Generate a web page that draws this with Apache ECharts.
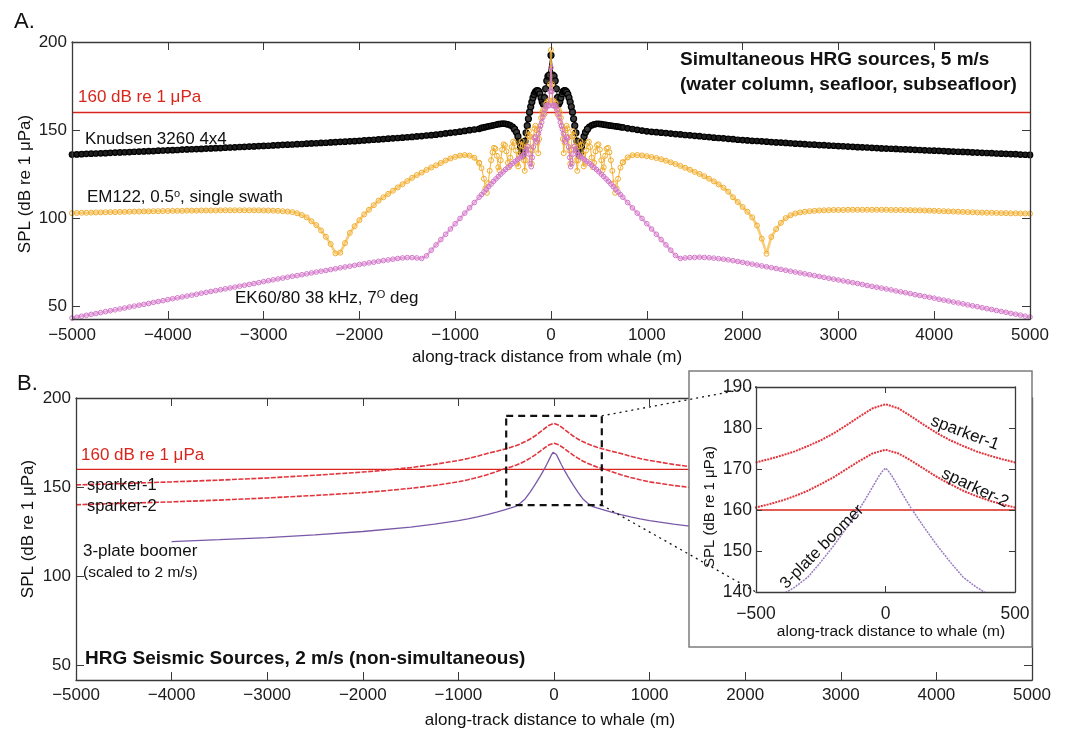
<!DOCTYPE html>
<html>
<head>
<meta charset="utf-8">
<script src="https://cdn.jsdelivr.net/npm/echarts@6/dist/echarts.min.js"></script>
<style>
  html, body { margin: 0; padding: 0; background: #fff; }
  #chart { width: 1068px; height: 731px; }
</style>
</head>
<body>
<div id="chart"></div>
<script>
// ---------- Panel A: simultaneous HRG sources, 5 m/s ----------
// along-track sample positions (m) of the far field on each side of the whale
const farLeft = [
  -5000,-4950,-4900,-4850,-4800,-4750,-4700,-4650,-4600,-4550,
  -4500,-4450,-4400,-4350,-4300,-4250,-4200,-4150,-4100,-4050,
  -4000,-3950,-3900,-3850,-3800,-3750,-3700,-3650,-3600,-3550,
  -3500,-3450,-3400,-3350,-3300,-3250,-3200,-3150,-3100,-3050,
  -3000,-2950,-2900,-2850,-2800,-2750,-2700,-2650,-2600,-2550,
  -2500,-2450,-2400,-2350,-2300,-2250,-2200,-2150,-2100,-2050,
  -2000,-1950,-1900,-1850,-1800,-1750,-1700,-1650,-1600,-1550,
  -1500,-1450,-1400,-1350,-1300,-1250,-1200,-1150,-1100,-1050,
  -1000,-950,-900,-850,-800,-750
];
const farRight = [
  750,800,850,900,950,
  1000,1050,1100,1150,1200,1250,1300,1350,1400,1450,
  1500,1550,1600,1650,1700,1750,1800,1850,1900,1950,
  2000,2050,2100,2150,2200,2250,2300,2350,2400,2450,
  2500,2550,2600,2650,2700,2750,2800,2850,2900,2950,
  3000,3050,3100,3150,3200,3250,3300,3350,3400,3450,
  3500,3550,3600,3650,3700,3750,3800,3850,3900,3950,
  4000,4050,4100,4150,4200,4250,4300,4350,4400,4450,
  4500,4550,4600,4650,4700,4750,4800,4850,4900,4950,
  5000
];

// Knudsen 3260 4x4 (SPL, dB re 1 uPa)
const knudsenLeft = [
  136.2,136.3,136.4,136.6,136.7,136.8,136.9,137.0,137.2,137.3,
  137.4,137.5,137.6,137.8,137.9,138.0,138.1,138.2,138.4,138.5,
  138.6,138.7,138.8,139.0,139.1,139.2,139.3,139.4,139.6,139.7,
  139.8,139.9,140.1,140.2,140.3,140.5,140.6,140.7,140.8,141.0,
  141.1,141.2,141.4,141.5,141.7,141.8,141.9,142.1,142.2,142.4,
  142.5,142.6,142.8,142.9,143.1,143.2,143.4,143.5,143.7,143.8,
  144.0,144.2,144.4,144.6,144.8,145.0,145.2,145.4,145.6,145.8,
  146.0,146.2,146.5,146.7,147.0,147.2,147.5,147.8,148.2,148.5,
  148.8,149.2,149.6,150.0,150.4,150.8
];
const knudsenCore = [
  [-725,151.3],[-700,151.6],[-675,151.9],[-650,152.2],[-625,152.5],[-600,152.8],[-575,153.1],
  [-550,153.4],[-525,153.6],[-500,153.7],[-475,153.6],[-450,153.3],[-425,152.8],[-400,151.9],
  [-380,150.6],[-360,148.8],[-345,146.5],[-330,143.6],[-318,140.4],[-306,137.4],[-295,135.6],
  [-284,139.2],[-272,143.8],[-260,148.5],[-248,152.6],[-236,156.5],[-224,160.2],[-212,163.3],
  [-200,166.0],[-188,168.4],[-176,170.3],[-164,171.6],[-152,172.3],[-140,172.5],[-128,172.0],
  [-116,170.6],[-104,168.4],[-92,166.2],[-80,164.8],[-68,168.5],[-56,173.5],[-44,178.0],
  [-32,180.6],[-20,181.2],[0,192.5],
  [20,181.2],[32,180.6],[44,178.0],[56,173.5],[68,168.5],[80,164.8],[92,166.2],[104,168.4],
  [116,170.6],[128,172.0],[140,172.5],[152,172.3],[164,171.6],[176,170.3],[188,168.4],[200,166.0],
  [212,163.3],[224,160.2],[236,156.5],[248,152.6],[260,148.5],[272,143.8],[284,139.2],[295,135.6],
  [306,137.4],[318,140.4],[330,143.6],[345,146.5],[360,148.8],[380,150.6],[400,151.9],[425,152.8],
  [450,153.3],[475,153.6],[500,153.6],[525,153.4],[550,153.2],[575,153.0],[600,152.8],[625,152.6],
  [650,152.4],[675,152.2],[700,152.0],[725,151.8]
];
const knudsenRight = [
  151.6,151.1,150.7,150.2,149.8,
  149.4,149.1,148.9,148.6,148.4,148.1,147.8,147.6,147.3,147.1,
  146.8,146.6,146.3,146.1,145.8,145.6,145.4,145.1,144.9,144.6,
  144.4,144.2,144.0,143.9,143.7,143.5,143.3,143.1,143.0,142.8,
  142.6,142.4,142.3,142.1,141.9,141.8,141.6,141.5,141.3,141.2,
  141.0,140.9,140.7,140.6,140.4,140.3,140.2,140.0,139.9,139.7,
  139.6,139.5,139.4,139.2,139.1,139.0,138.9,138.8,138.6,138.5,
  138.4,138.3,138.2,138.0,137.9,137.8,137.7,137.6,137.4,137.3,
  137.2,137.1,137.0,136.8,136.7,136.6,136.5,136.4,136.2,136.1,
  136.0
];

// EM122, 0.5 deg, single swath
const em122Left = [
  103.0,103.1,103.2,103.2,103.3,103.4,103.4,103.5,103.6,103.6,
  103.7,103.7,103.8,103.9,103.9,104.0,104.0,104.1,104.1,104.2,
  104.2,104.3,104.3,104.3,104.4,104.4,104.4,104.5,104.5,104.5,
  104.5,104.6,104.6,104.6,104.6,104.6,104.6,104.6,104.6,104.6,
  104.5,104.5,104.4,104.3,104.1,103.9,103.6,102.9,101.9,100.6,
  98.4,96.2,93.2,89.6,85.5,80.2,80.6,86.0,91.8,95.6,
  99.0,102.3,104.9,107.5,110.1,112.0,113.9,115.7,117.6,119.4,
  121.2,123.0,124.6,126.0,127.5,128.9,130.1,131.4,132.8,134.0,
  134.9,135.6,135.9,135.6,134.4,131.5
];
const em122Core = [
  [-725,128.5],[-700,122.5],[-685,117],[-670,114.5],[-655,120],[-640,127],[-625,133],[-610,137.5],
  [-595,140],[-580,139.5],[-565,135.5],[-550,129],[-538,127.3],[-525,133],[-510,139],[-495,142],
  [-480,141.5],[-465,138],[-450,131.5],[-438,129],[-425,134.5],[-410,140.5],[-395,143.5],[-380,142.8],
  [-366,138.5],[-353,131],[-342,129.5],[-330,136],[-318,141.5],[-306,143.8],[-294,141],[-283,133],
  [-274,127],[-264,133],[-253,141],[-242,147],[-231,149.5],[-220,146.5],[-210,139],[-201,131],
  [-192,138.5],[-182,146],[-172,151],[-162,152.5],[-152,150],[-142,143],[-133,137],[-124,145],
  [-114,152.5],[-103,157],[-92,160],[-81,161.5],[-70,159],[-60,162],[-50,165],[-40,166],
  [-30,164],[-20,167],[-10,176],[0,195.5],
  [10,176],[20,167],[30,164],[40,166],[50,165],[60,162],[70,159],[81,161.5],[92,160],[103,157],
  [114,152.5],[124,145],[133,137],[142,143],[152,150],[162,152.5],[172,151],[182,146],[192,138.5],
  [201,131],[210,139],[220,146.5],[231,149.5],[242,147],[253,141],[264,133],[274,127],[283,133],
  [294,141],[306,143.8],[318,141.5],[330,136],[342,129.5],[353,131],[366,138.5],[380,142.8],
  [395,143.5],[410,140.5],[425,134.5],[438,129],[450,131.5],[465,138],[480,141.5],[495,142],
  [510,139],[525,133],[538,127.3],[550,129],[565,135.5],[580,139.5],[595,140],[610,137.5],
  [625,133],[640,127],[655,120],[670,114.5],[685,117],[700,122.5],[725,128.8]
];
const em122Right = [
  131.8,134.6,135.8,135.9,135.7,
  135.3,134.8,134.2,133.5,132.7,131.8,130.8,129.8,128.7,127.6,
  126.4,125.2,123.9,122.5,121.0,119.3,117.4,115.2,112.0,109.3,
  106.5,103.8,100.6,96.0,88.5,80.0,89.5,94.0,97.5,100.2,
  101.8,102.8,103.4,103.8,104.1,104.3,104.5,104.6,104.7,104.8,
  104.8,104.8,104.9,104.9,104.9,104.9,104.9,104.9,104.9,104.9,
  104.9,104.8,104.8,104.8,104.7,104.7,104.6,104.6,104.5,104.4,
  104.3,104.2,104.1,104.0,103.9,103.8,103.7,103.6,103.5,103.4,
  103.3,103.2,103.2,103.1,103.0,103.0,102.9,102.9,102.8,102.8,
  102.7
];

// EK60/80 38 kHz, 7 deg
const ek60Left = [
  43.5,44.0,44.6,45.1,45.6,46.1,46.6,47.2,47.7,48.2,
  48.7,49.2,49.8,50.3,50.8,51.3,51.8,52.4,52.9,53.4,
  54.0,54.5,55.0,55.5,56.0,56.5,57.0,57.6,58.1,58.6,
  59.1,59.6,60.1,60.6,61.1,61.6,62.1,62.6,63.1,63.6,
  64.2,64.7,65.2,65.7,66.2,66.7,67.2,67.6,68.1,68.6,
  69.1,69.6,70.1,70.5,71.0,71.5,72.0,72.5,72.9,73.4,
  73.9,74.3,74.8,75.2,75.7,76.1,76.5,76.9,77.3,77.6,
  77.8,77.8,77.6,77.3,78.8,82.0,85.0,88.0,91.0,94.0,
  97.0,100.0,103.0,106.0,109.0,112.0
];
const ek60Core = [
  [-725,113.5],[-700,115],[-675,116.5],[-650,118],[-625,119.5],[-600,121],[-575,122.4],[-550,123.8],
  [-525,125.1],[-500,126.4],[-475,127.7],[-450,128.9],[-425,130.1],[-400,131.2],[-375,132.3],
  [-350,133.3],[-325,134.3],[-300,135.2],[-285,136.3],[-270,137.8],[-256,139.3],[-243,140.8],
  [-230,136.5],[-218,131],[-206,129.3],[-195,134.5],[-184,140.5],[-173,145.5],[-162,146.3],
  [-151,143.5],[-141,144.5],[-130,148],[-119,150.5],[-108,152.5],[-97,154.5],[-86,157.2],
  [-75,159.5],[-64,161.5],[-53,163.2],[-42,164.2],[-31,163.8],[-20,164],[-10,172],[0,185.5],
  [10,172],[20,164],[31,163.8],[42,164.2],[53,163.2],[64,161.5],[75,159.5],[86,157.2],[97,154.5],
  [108,152.5],[119,150.5],[130,148],[141,144.5],[151,143.5],[162,146.3],[173,145.5],[184,140.5],
  [195,134.5],[206,129.3],[218,131],[230,136.5],[243,140.8],[256,139.3],[270,137.8],[285,136.3],
  [300,135.2],[325,134.3],[350,133.3],[375,132.3],[400,131.2],[425,130.1],[450,128.9],[475,127.7],
  [500,126.4],[525,125.1],[550,123.8],[575,122.4],[600,121],[625,119.5],[650,118],[675,116.5],
  [700,115],[725,113.5]
];
const ek60Right = [
  112.0,109.0,106.0,103.0,100.0,
  97.0,94.0,91.0,88.0,85.0,82.0,79.0,77.3,77.6,77.8,
  77.9,78.0,77.9,77.7,77.5,77.2,76.9,76.5,76.1,75.6,
  75.1,74.6,74.1,73.6,73.1,72.6,72.1,71.6,71.1,70.6,
  70.1,69.6,69.1,68.6,68.1,67.6,67.1,66.6,66.1,65.6,
  65.1,64.6,64.1,63.6,63.1,62.6,62.0,61.5,61.0,60.5,
  60.0,59.5,58.9,58.4,57.9,57.4,56.8,56.3,55.8,55.3,
  54.8,54.2,53.7,53.2,52.6,52.1,51.6,51.0,50.5,50.0,
  49.4,48.9,48.4,47.8,47.3,46.8,46.2,45.7,45.2,44.6,
  44.1
];

// ---------- Panel B: HRG seismic sources, 2 m/s ----------
const sparker1 = [
  [-5000,151.3],[-4500,152.1],[-4000,153.0],[-3500,154.0],[-3000,155.2],[-2500,156.7],[-2000,158.5],
  [-1750,159.6],[-1500,161.0],[-1250,162.8],[-1000,165.0],[-900,166.1],[-800,167.4],[-700,168.9],
  [-600,170.2],[-500,171.6],[-450,172.4],[-400,173.3],[-350,174.3],[-300,175.6],[-250,177.0],
  [-200,178.7],[-150,180.7],[-100,182.8],[-50,184.8],[0,185.8],
  [50,184.8],[100,182.8],[150,180.7],[200,178.7],[250,177.0],[300,175.6],[350,174.3],[400,173.3],
  [450,172.4],[500,171.6],[600,170.2],[700,168.9],[800,167.4],[900,166.1],[1000,165.0],[1250,162.8],
  [1500,161.0],[1750,159.6],[2000,158.5],[2500,156.7],[3000,155.2],[3500,154.0],[4000,153.0],
  [4500,152.1],[5000,151.3]
];
const sparker2 = [
  [-5000,140.2],[-4500,141.0],[-4000,141.8],[-3500,142.8],[-3000,144.0],[-2500,145.4],[-2000,147.0],
  [-1750,148.1],[-1500,149.4],[-1250,151.0],[-1000,153.0],[-900,154.2],[-800,155.5],[-700,157.0],
  [-600,158.8],[-500,160.6],[-450,161.4],[-400,162.3],[-350,163.4],[-300,164.7],[-250,166.3],
  [-200,168.0],[-150,170.0],[-100,172.0],[-50,173.8],[0,174.7],
  [50,173.8],[100,172.0],[150,170.0],[200,168.0],[250,166.3],[300,164.7],[350,163.4],[400,162.3],
  [450,161.4],[500,160.6],[600,158.8],[700,157.0],[800,155.5],[900,154.2],[1000,153.0],[1250,151.0],
  [1500,149.4],[1750,148.1],[2000,147.0],[2500,145.4],[3000,144.0],[3500,142.8],[4000,141.8],
  [4500,141.0],[5000,140.2]
];
const boomer = [
  [-4000,119.5],[-3500,120.6],[-3000,121.8],[-2500,123.3],[-2000,125.2],[-1500,127.7],[-1250,129.3],
  [-1000,131.3],[-900,132.3],[-800,133.4],[-700,134.6],[-600,136.0],[-500,137.6],[-450,138.4],
  [-400,139.3],[-350,141.2],[-300,143.6],[-250,147.3],[-200,151.3],[-150,155.7],[-100,160.3],
  [-75,162.9],[-50,165.6],[-25,168.3],[-10,169.6],[0,170.2],
  [10,169.6],[25,168.3],[50,165.6],[75,162.9],[100,160.3],[150,155.7],[200,151.3],[250,147.3],
  [300,143.6],[350,141.2],[400,139.3],[450,138.4],[500,137.6],[600,136.0],[700,134.6],[800,133.4],
  [900,132.3],[1000,131.3],[1250,129.3],[1500,127.7],[2000,125.2],[2500,123.3],[3000,121.8],
  [3500,120.6],[4000,119.5]
];

const threshold = 160;
const xTicksMain = { min: -5000, max: 5000, step: 1000 };
const xTicksInset = { min: -500, max: 500, step: 500 };
const yRangeA = { min: 43, max: 200, step: 50 };
const yRangeB = { min: 42, max: 200, step: 50 };
const yRangeInset = { min: 140, max: 190, step: 10 };

// ---------- helpers ----------
const FF = '"Liberation Sans", Arial, Helvetica, sans-serif';
const AXIS_COLOR = '#3a3a3a';
const minus = v => (v < 0 ? '\u2212' + Math.abs(v) : String(v));
const join = (xs, ys) => xs.map((x, i) => [x, ys[i]]);

function xAxisPair(grid, r, opts) {
  const base = {
    gridIndex: grid, type: 'value', min: r.min, max: r.max, interval: r.step,
    splitLine: { show: false },
    axisLine: { show: true, onZero: false, lineStyle: { color: AXIS_COLOR, width: 1.3 } },
    axisTick: { show: true, inside: true, length: opts.tick, lineStyle: { color: AXIS_COLOR, width: 1 } },
    zlevel: opts.zlevel || 0, z: 5
  };
  return [
    Object.assign({}, base, {
      position: 'bottom',
      axisLabel: { show: true, formatter: minus, fontFamily: FF, fontSize: opts.font || 17, color: '#1c1c1c', margin: opts.margin }
    }),
    Object.assign({}, base, { position: 'top', axisLabel: { show: false } })
  ];
}
function yAxisPair(grid, r, opts) {
  const base = {
    gridIndex: grid, type: 'value', min: r.min, max: r.max,
    splitLine: { show: false },
    axisLine: { show: true, onZero: false, lineStyle: { color: AXIS_COLOR, width: 1.3 } },
    axisTick: { show: true, inside: true, length: opts.tick, lineStyle: { color: AXIS_COLOR, width: 1 } },
    zlevel: opts.zlevel || 0, z: 5
  };
  if (r.min % r.step === 0) {
    base.interval = r.step;
  } else {
    base.splitNumber = 3; base.minInterval = r.step; base.maxInterval = r.step;
  }
  return [
    Object.assign({}, base, {
      position: 'left',
      axisLabel: {
        show: true, fontFamily: FF, fontSize: opts.font || 17, color: '#1c1c1c', margin: opts.margin,
        formatter: v => (v % r.step === 0 ? String(v) : '')
      }
    }),
    Object.assign({}, base, { position: 'right', axisLabel: { show: false } })
  ];
}

const xA = xAxisPair(0, xTicksMain, { tick: 8, margin: 8 });
const yA = yAxisPair(0, yRangeA, { tick: 8, margin: 5 });
const xB = xAxisPair(1, xTicksMain, { tick: 8, margin: 7 });
const yB = yAxisPair(1, yRangeB, { tick: 8, margin: 5 });
const xI = xAxisPair(2, xTicksInset, { tick: 6, margin: 13, zlevel: 2, font: 17.5 });
const yI = yAxisPair(2, yRangeInset, { tick: 6, margin: 4, zlevel: 2, font: 17.5 });

// marker series: smoothly varying sections use a heavier connecting line so the
// closely spaced pings read as a continuous band
function markerSeries(name, data, o) {
  return {
    name, type: 'line', xAxisIndex: 0, yAxisIndex: 0, data,
    symbol: 'circle', symbolSize: o.size, showSymbol: true,
    lineStyle: { color: o.line, width: o.width },
    itemStyle: o.fill
      ? { color: o.fill, borderColor: o.stroke, borderWidth: 1.2 }
      : { color: 'rgba(255,255,255,0)', borderColor: o.stroke, borderWidth: 1 },
    z: o.z || 2,
    emphasis: { disabled: true }, silent: true, clip: true
  };
}
function plainLine(name, data, xi, color, width, type, zlevel, z) {
  return {
    name, type: 'line', xAxisIndex: xi, yAxisIndex: xi, data, showSymbol: false, symbol: 'none',
    lineStyle: { color, width, type: type || 'solid' }, zlevel: zlevel || 0, z: z || 2,
    emphasis: { disabled: true }, silent: true, clip: true
  };
}

// split a full profile into two smooth outer sections (|x| >= cut) and the
// oscillating centre; the centre keeps the bounding samples so the trace is continuous
function sections(left, core, right, cut) {
  const all = join(farLeft, left).concat(core, join(farRight, right));
  const l = all.filter(p => p[0] <= -cut);
  const r = all.filter(p => p[0] >= cut);
  const c = all.filter(p => p[0] > -cut && p[0] < cut);
  return { left: l, right: r, core: [l[l.length - 1]].concat(c, [r[0]]) };
}
const knudsen = sections(knudsenLeft, knudsenCore, knudsenRight, 380);
const em122 = sections(em122Left, em122Core, em122Right, 740);
const ek60 = sections(ek60Left, ek60Core, ek60Right, 290);

const STY = {
  kTail: { size: 5.5, line: '#0d0d0d', width: 4.2, fill: '#1e1e1e', stroke: '#000', z: 2 },
  kCore: { size: 6, line: '#000', width: 1, fill: '#3b3b3b', stroke: '#000', z: 2 },
  eTail: { size: 5, line: '#f8cc78', width: 2.6, stroke: '#f1ad2e', z: 3 },
  eCore: { size: 5, line: '#f2b134', width: 1, stroke: '#f1ad2e', z: 3 },
  pTail: { size: 4.6, line: '#e6a8df', width: 2.4, stroke: '#d076c6', z: 4 },
  pCore: { size: 4.6, line: '#d47ac9', width: 1, stroke: '#d076c6', z: 4 }
};

const RED = '#d9261c';
const SPARK = '#e3343c';
const BOOM = '#7a58a8';

const zoomBox = [
  [xTicksInset.min, yRangeInset.max], [xTicksInset.max, yRangeInset.max],
  [xTicksInset.max, yRangeInset.min], [xTicksInset.min, yRangeInset.min],
  [xTicksInset.min, yRangeInset.max]
];

const chart = echarts.init(document.getElementById('chart'), null, { renderer: 'canvas' });

chart.setOption({
  animation: false,
  backgroundColor: '#ffffff',
  grid: [
    { left: 72, top: 42, width: 958, height: 277, show: false },
    { left: 76, top: 398, width: 956, height: 282, show: false },
    { left: 756, top: 387, width: 259, height: 205, show: false, zlevel: 2 }
  ],
  xAxis: [xA[0], xA[1], xB[0], xB[1], xI[0], xI[1]],
  yAxis: [yA[0], yA[1], yB[0], yB[1], yI[0], yI[1]],
  series: [
    plainLine('160 dB', [[xTicksMain.min, threshold], [xTicksMain.max, threshold]], 0, RED, 1.5),
    markerSeries('Knudsen left', knudsen.left, STY.kTail),
    markerSeries('Knudsen right', knudsen.right, STY.kTail),
    markerSeries('Knudsen core', knudsen.core, STY.kCore),
    markerSeries('EM122 left', em122.left, STY.eTail),
    markerSeries('EM122 right', em122.right, STY.eTail),
    markerSeries('EM122 core', em122.core, STY.eCore),
    markerSeries('EK60 left', ek60.left, STY.pTail),
    markerSeries('EK60 right', ek60.right, STY.pTail),
    markerSeries('EK60 core', ek60.core, STY.pCore),

    plainLine('160 dB B', [[xTicksMain.min, threshold], [xTicksMain.max, threshold]], 2, RED, 1.3),
    plainLine('sparker-1', sparker1, 2, SPARK, 1.6, [5, 1.5]),
    plainLine('sparker-2', sparker2, 2, SPARK, 1.6, [5, 1.5]),
    plainLine('3-plate boomer', boomer, 2, BOOM, 1.3),
    plainLine('zoom box', zoomBox, 2, '#111', 2.2, [7, 5], 0, 4),

    plainLine('160 dB inset', [[xTicksInset.min, threshold], [xTicksInset.max, threshold]], 4, RED, 1.3, 'solid', 2, 3),
    plainLine('sparker-1 inset', sparker1, 4, SPARK, 2, [2, 1], 2, 4),
    plainLine('sparker-2 inset', sparker2, 4, SPARK, 2, [2, 1], 2, 4),
    plainLine('boomer inset', boomer, 4, '#9a7cc2', 1.5, [2, 1], 2, 4)
  ]
});

// text and connector overlays
function txt(x, y, text, o) {
  o = o || {};
  return {
    type: 'text', x, y, rotation: o.rot || 0, zlevel: o.zlevel || 0, z: 50, silent: true,
    style: {
      text, fill: o.color || '#111', fontFamily: FF, fontSize: o.size || 17,
      fontWeight: o.bold ? 'bold' : 'normal',
      align: o.align || 'left', verticalAlign: 'middle', rich: o.rich
    }
  };
}
const supRich = {
  n: { fontFamily: FF, fontSize: 17, fill: '#111' },
  s: { fontFamily: FF, fontSize: 11, fill: '#111', verticalAlign: 'top' }
};

const pTL = chart.convertToPixel({ gridIndex: 1 }, [xTicksInset.max, yRangeInset.max]);
const pBL = chart.convertToPixel({ gridIndex: 1 }, [xTicksInset.max, yRangeInset.min]);
const iTL = chart.convertToPixel({ gridIndex: 2 }, [xTicksInset.min, yRangeInset.max]);
const iBL = chart.convertToPixel({ gridIndex: 2 }, [xTicksInset.min, yRangeInset.min]);
const dotted = { stroke: '#111', lineWidth: 1.3, lineDash: [2, 4] };

chart.setOption({
  graphic: { elements: [
    // panel A
    txt(14, 22, 'A.', { size: 22 }),
    txt(25, 184, 'SPL (dB re 1 \u03bcPa)', { rot: Math.PI / 2, align: 'center' }),
    txt(547, 357, 'along-track distance from whale (m)', { align: 'center' }),
    txt(78, 97, '160 dB re 1 \u03bcPa', { color: RED }),
    txt(85, 139, 'Knudsen 3260 4x4'),
    txt(87, 197, '{n|EM122, 0.5}{s|o}{n|, single swath}', { rich: supRich }),
    txt(235, 298, '{n|EK60/80 38 kHz, 7}{s|O}{n| deg}', { rich: supRich }),
    txt(680, 60, 'Simultaneous HRG sources, 5 m/s', { size: 19, bold: true }),
    txt(680, 85, '(water column, seafloor, subseafloor)', { size: 19, bold: true }),

    // panel B
    txt(17, 384, 'B.', { size: 22 }),
    txt(28, 529, 'SPL (dB re 1 \u03bcPa)', { rot: Math.PI / 2, align: 'center' }),
    txt(550, 720, 'along-track distance to whale (m)', { align: 'center' }),
    txt(81, 455, '160 dB re 1 \u03bcPa', { color: RED }),
    txt(87, 485, 'sparker-1', { size: 16.5 }),
    txt(87, 506, 'sparker-2', { size: 16.5 }),
    txt(83, 551, '3-plate boomer'),
    txt(83, 573, '(scaled to 2 m/s)', { size: 15.5 }),
    txt(85, 659, 'HRG Seismic Sources, 2 m/s (non-simultaneous)', { size: 19, bold: true }),

    // inset frame
    { type: 'rect', zlevel: 1, z: 0, silent: true,
      shape: { x: 689, y: 371, width: 343, height: 276 },
      style: { fill: '#ffffff', stroke: '#7c7c7c', lineWidth: 1.5 } },
    txt(710, 507, 'SPL (dB re 1 \u03bcPa)', { rot: Math.PI / 2, align: 'center', size: 15, zlevel: 2 }),
    txt(891, 632, 'along-track distance to whale (m)', { align: 'center', size: 15.5, zlevel: 2 }),
    txt(965, 433, 'sparker-1', { align: 'center', rot: -0.36, zlevel: 2 }),
    txt(975, 488, 'sparker-2', { align: 'center', rot: -0.44, zlevel: 2 }),
    txt(822, 547, '3-plate boomer', { align: 'center', rot: 0.79, size: 16.5, zlevel: 2 }),

    // connectors from the zoom box to the inset
    { type: 'line', zlevel: 3, silent: true,
      shape: { x1: pTL[0], y1: pTL[1], x2: iTL[0], y2: iTL[1] }, style: dotted },
    { type: 'line', zlevel: 3, silent: true,
      shape: { x1: pBL[0], y1: pBL[1], x2: iBL[0], y2: iBL[1] }, style: dotted }
  ] }
});
</script>
</body>
</html>
